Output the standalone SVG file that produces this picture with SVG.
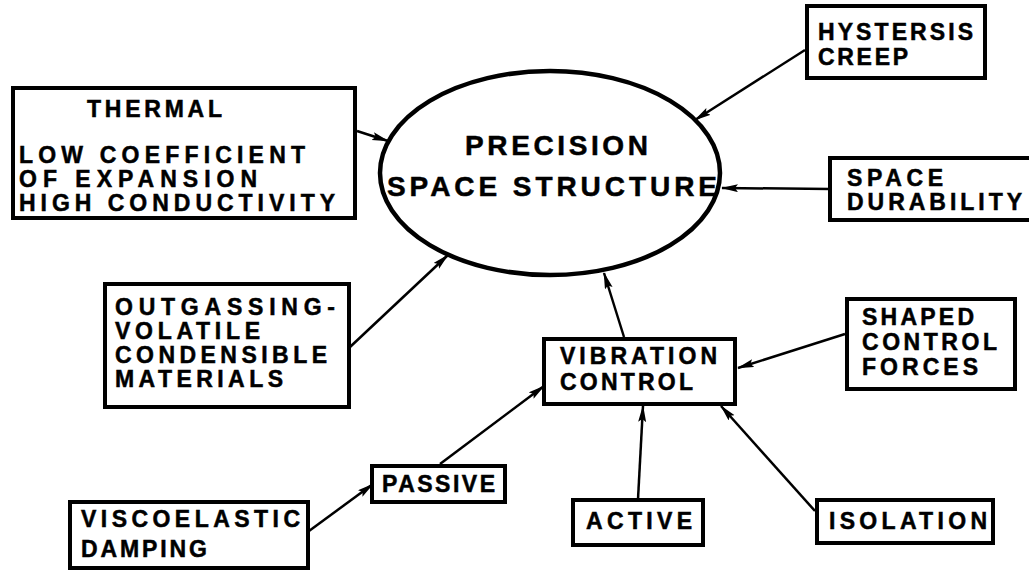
<svg xmlns="http://www.w3.org/2000/svg" width="1029" height="570" viewBox="0 0 1029 570">
<style>
.box{fill:#fff;stroke:#000;stroke-width:4}
.ell{fill:#fff;stroke:#000;stroke-width:4.5}
.t{font-family:"Liberation Sans",Arial,sans-serif;font-weight:bold;font-size:23px;fill:#000;stroke:#000;stroke-width:0.5}
.tb{font-family:"Liberation Sans",Arial,sans-serif;font-weight:bold;font-size:28px;fill:#000;stroke:#000;stroke-width:0.5}
.c{stroke:#000;stroke-width:2.5;fill:none;marker-end:url(#ah)}
</style>
<defs>
<marker id="ah" markerUnits="userSpaceOnUse" markerWidth="18" markerHeight="10" refX="16" refY="4" orient="auto">
<path d="M0,0 L17,4 L0,8 L3,4 z" fill="#000"/>
</marker>
</defs>
<rect width="1029" height="570" fill="#fff"/>
<g id="connectors">
<line class="c" x1="357" y1="131" x2="388" y2="141"/>
<line class="c" x1="805" y1="50" x2="695" y2="120"/>
<line class="c" x1="830" y1="189" x2="722" y2="188"/>
<line class="c" x1="350" y1="347" x2="448" y2="255"/>
<line class="c" x1="624" y1="337" x2="604" y2="273"/>
<line class="c" x1="845" y1="334" x2="738" y2="368"/>
<line class="c" x1="440" y1="464" x2="544" y2="386"/>
<line class="c" x1="638" y1="499" x2="643" y2="406"/>
<line class="c" x1="815" y1="511" x2="721" y2="406"/>
<line class="c" x1="309" y1="531" x2="373" y2="484"/>
</g>
<g id="precision">
<ellipse class="ell" cx="550" cy="173" rx="170" ry="102"/>
<text class="tb" x="465" y="155" textLength="183" lengthAdjust="spacing">PRECISION</text>
<text class="tb" x="387" y="196" textLength="330" lengthAdjust="spacing">SPACE STRUCTURE</text>
</g>
<g id="thermal">
<rect class="box" x="13" y="88" width="342" height="130"/>
<text class="t" x="87" y="117" textLength="135" lengthAdjust="spacing">THERMAL</text>
<text class="t" x="19" y="163" textLength="286" lengthAdjust="spacing">LOW COEFFICIENT</text>
<text class="t" x="19" y="187" textLength="238" lengthAdjust="spacing">OF EXPANSION</text>
<text class="t" x="19" y="211" textLength="316" lengthAdjust="spacing">HIGH CONDUCTIVITY</text>
</g>
<g id="hysteresis">
<rect class="box" x="807" y="6" width="178" height="72"/>
<text class="t" x="818" y="40" textLength="155" lengthAdjust="spacing">HYSTERSIS</text>
<text class="t" x="818" y="65" textLength="90" lengthAdjust="spacing">CREEP</text>
</g>
<g id="durability">
<rect class="box" x="830" y="158" width="210" height="62"/>
<text class="t" x="847" y="186" textLength="96" lengthAdjust="spacing">SPACE</text>
<text class="t" x="847" y="210" textLength="175" lengthAdjust="spacing">DURABILITY</text>
</g>
<g id="outgassing">
<rect class="box" x="105" y="284" width="244" height="123"/>
<text class="t" x="115" y="315" textLength="220" lengthAdjust="spacing">OUTGASSING-</text>
<text class="t" x="115" y="339" textLength="145" lengthAdjust="spacing">VOLATILE</text>
<text class="t" x="115" y="363" textLength="212" lengthAdjust="spacing">CONDENSIBLE</text>
<text class="t" x="115" y="387" textLength="168" lengthAdjust="spacing">MATERIALS</text>
</g>
<g id="vibration">
<rect class="box" x="544" y="339" width="191" height="65"/>
<text class="t" x="560" y="364" textLength="157" lengthAdjust="spacing">VIBRATION</text>
<text class="t" x="560" y="390" textLength="133" lengthAdjust="spacing">CONTROL</text>
</g>
<g id="shaped">
<rect class="box" x="847" y="299" width="168" height="90"/>
<text class="t" x="862" y="325" textLength="112" lengthAdjust="spacing">SHAPED</text>
<text class="t" x="862" y="350" textLength="135" lengthAdjust="spacing">CONTROL</text>
<text class="t" x="862" y="375" textLength="116" lengthAdjust="spacing">FORCES</text>
</g>
<g id="passive">
<rect class="box" x="372" y="466" width="133" height="36"/>
<text class="t" x="382" y="492" textLength="113" lengthAdjust="spacing">PASSIVE</text>
</g>
<g id="viscoelastic">
<rect class="box" x="70" y="502" width="238" height="66"/>
<text class="t" x="81" y="527" textLength="219" lengthAdjust="spacing">VISCOELASTIC</text>
<text class="t" x="81" y="557" textLength="126" lengthAdjust="spacing">DAMPING</text>
</g>
<g id="active">
<rect class="box" x="573" y="500" width="130" height="45"/>
<text class="t" x="586" y="529" textLength="106" lengthAdjust="spacing">ACTIVE</text>
</g>
<g id="isolation">
<rect class="box" x="817" y="500" width="176" height="43"/>
<text class="t" x="829" y="529" textLength="158" lengthAdjust="spacing">ISOLATION</text>
</g>
</svg>
